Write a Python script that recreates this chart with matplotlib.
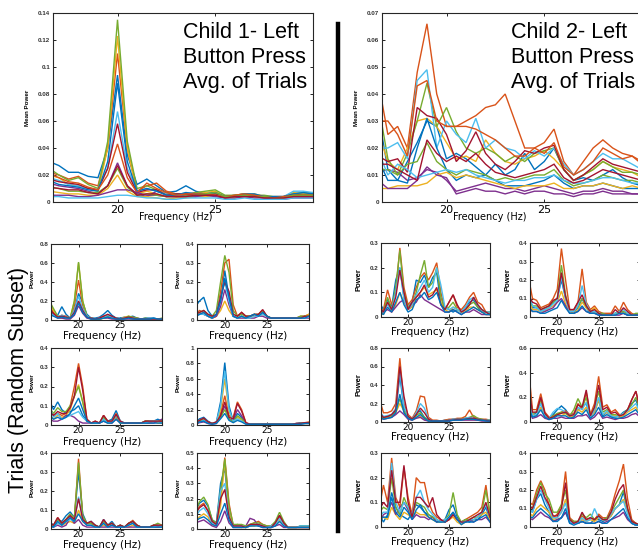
import matplotlib
matplotlib.use('Agg')
import matplotlib.pyplot as plt
from matplotlib.lines import Line2D
import numpy as np

# frequency grid (Hz) shared by every panel
freq = np.arange(16.5, 30.01, 0.5)

# MATLAB default line colours
matlab_colors = ['#0072BD', '#D95319', '#EDB120', '#7E2F8E', '#77AC30', '#4DBEEE', '#A2142F']

# ---- Child 1, average of trials (mean power) ----
c1_avg = [
    [.03, .027, .022, .022, .019, .018, .04, .094, .035, .013, .017, .012, .007, .008, .012, .008, .006, .007, .004, .005, .006, .005, .004, .004, .004, .006, .005, .005],
    [.022, .02, .017, .019, .014, .012, .04, .11, .04, .008, .012, .014, .008, .006, .006, .007, .006, .006, .004, .005, .006, .005, .004, .003, .004, .006, .006, .006],
    [.02, .018, .013, .012, .01, .008, .04, .123, .04, .006, .008, .006, .004, .005, .004, .006, .007, .008, .004, .004, .006, .006, .004, .003, .004, .007, .006, .007],
    [.014, .012, .011, .01, .008, .006, .012, .029, .012, .006, .004, .008, .006, .004, .005, .004, .006, .005, .004, .004, .005, .004, .004, .003, .003, .004, .004, .004],
    [.025, .02, .016, .018, .013, .01, .045, .135, .045, .01, .012, .009, .006, .006, .005, .007, .008, .009, .005, .005, .006, .005, .005, .004, .004, .006, .007, .006],
    [.018, .016, .013, .012, .01, .009, .025, .067, .025, .008, .01, .008, .006, .005, .007, .006, .006, .006, .004, .004, .006, .005, .004, .003, .004, .008, .008, .007],
    [.017, .015, .014, .013, .01, .009, .025, .058, .022, .007, .009, .009, .005, .006, .006, .005, .005, .006, .004, .004, .005, .005, .003, .004, .004, .005, .005, .005],
    [.016, .013, .012, .011, .009, .008, .03, .088, .03, .008, .01, .008, .005, .005, .007, .006, .006, .007, .004, .004, .006, .006, .004, .004, .004, .006, .007, .006],
    [.021, .018, .015, .014, .011, .009, .02, .043, .018, .007, .014, .01, .007, .005, .006, .006, .006, .005, .004, .005, .006, .005, .004, .003, .004, .005, .005, .005],
    [.008, .007, .006, .006, .005, .005, .01, .02, .008, .004, .004, .003, .002, .003, .003, .004, .004, .005, .003, .003, .004, .004, .003, .003, .003, .004, .004, .004],
    [.005, .005, .005, .004, .004, .005, .007, .009, .009, .007, .005, .005, .004, .004, .004, .004, .005, .004, .003, .003, .004, .003, .003, .002, .002, .003, .003, .003],
    [.011, .01, .008, .008, .007, .007, .012, .025, .011, .005, .006, .005, .004, .004, .004, .005, .006, .007, .004, .004, .005, .004, .004, .003, .003, .005, .005, .005],
    [.004, .004, .003, .003, .003, .003, .004, .005, .005, .004, .003, .003, .002, .002, .003, .003, .003, .003, .002, .002, .003, .002, .002, .002, .002, .003, .003, .003],
    [.011, .01, .009, .009, .007, .006, .012, .027, .012, .005, .006, .006, .004, .004, .004, .005, .005, .005, .003, .004, .004, .004, .003, .003, .003, .004, .004, .004],
]

# ---- Child 2, average of trials (mean power) ----
c2_avg = [
    [.033, .012, .008, .015, .022, .03, .028, .016, .018, .016, .013, .01, .014, .01, .012, .018, .012, .015, .02, .012, .008, .009, .008, .01, .012, .009, .007, .006],
    [.045, .025, .028, .02, .048, .066, .04, .028, .028, .03, .032, .035, .036, .04, .03, .02, .02, .022, .027, .015, .01, .015, .02, .023, .02, .018, .017, .014],
    [.026, .015, .012, .02, .03, .031, .028, .022, .016, .017, .015, .023, .018, .015, .014, .016, .017, .019, .016, .012, .008, .01, .012, .015, .013, .012, .011, .009],
    [.011, .012, .011, .008, .009, .012, .011, .008, .004, .005, .006, .007, .006, .005, .005, .004, .005, .006, .005, .004, .003, .004, .004, .005, .004, .004, .003, .003],
    [.037, .016, .01, .018, .03, .044, .028, .035, .026, .02, .018, .02, .018, .015, .017, .015, .018, .019, .02, .012, .008, .01, .012, .015, .013, .011, .011, .01],
    [.02, .02, .022, .016, .045, .049, .02, .03, .025, .022, .031, .02, .023, .02, .019, .016, .019, .017, .02, .014, .01, .012, .015, .018, .016, .016, .014, .012],
    [.017, .015, .016, .011, .035, .032, .031, .025, .015, .019, .026, .018, .014, .012, .015, .019, .018, .02, .021, .012, .008, .01, .013, .016, .014, .013, .012, .011],
    [.016, .008, .008, .007, .02, .031, .02, .012, .008, .01, .009, .01, .008, .006, .006, .006, .007, .008, .01, .007, .005, .006, .006, .007, .006, .005, .005, .005],
    [.03, .03, .025, .017, .043, .045, .03, .028, .028, .028, .027, .025, .023, .02, .017, .017, .02, .018, .022, .013, .01, .012, .015, .02, .018, .016, .017, .015],
    [.005, .005, .006, .006, .006, .007, .01, .011, .009, .01, .009, .008, .007, .006, .005, .006, .006, .006, .007, .005, .005, .006, .006, .007, .006, .005, .006, .005],
    [.008, .005, .005, .005, .008, .013, .01, .009, .003, .004, .005, .004, .004, .003, .004, .003, .004, .004, .003, .003, .002, .003, .003, .004, .003, .003, .003, .003],
    [.012, .012, .01, .014, .015, .022, .015, .012, .01, .012, .011, .01, .008, .009, .008, .009, .01, .01, .012, .008, .006, .007, .008, .01, .009, .008, .008, .007],
    [.019, .01, .014, .012, .009, .01, .011, .012, .011, .012, .01, .009, .008, .007, .008, .008, .009, .009, .01, .008, .007, .007, .008, .009, .009, .008, .007, .007],
    [.014, .014, .012, .01, .008, .023, .018, .015, .017, .015, .018, .014, .011, .01, .009, .01, .011, .012, .014, .009, .007, .008, .01, .012, .011, .01, .009, .008],
]

# ---- Child 1, single trials (power) ----
c1_t1 = [
    [.12, .06, .05, .14, .06, .02, .1, .28, .18, .06, .02, .02, .03, .06, .1, .05, .02, .02, .03, .03, .04, .02, .01, .02, .02, .02, .01, .01],
    [.15, .08, .03, .05, .04, .02, .15, .42, .15, .03, .02, .01, .02, .04, .05, .03, .01, .01, .02, .03, .03, .02, .01, .01, .01, .01, .01, .01],
    [.2, .1, .03, .02, .03, .02, .2, .6, .2, .03, .01, .01, .01, .02, .03, .02, .01, .01, .03, .04, .02, .01, .01, .01, .01, .01, .01, .01],
    [.1, .05, .02, .02, .01, .01, .05, .15, .07, .02, .01, .01, .01, .02, .02, .01, .01, .01, .01, .01, .01, .01, .01, .01, .01, .01, .01, .01],
    [.2, .12, .04, .04, .03, .02, .2, .61, .2, .04, .02, .01, .01, .02, .04, .03, .02, .01, .02, .04, .03, .02, .01, .02, .01, .01, .01, .02],
    [.08, .05, .03, .05, .03, .02, .1, .25, .12, .04, .02, .01, .02, .03, .05, .03, .02, .01, .02, .02, .02, .01, .01, .01, .01, .01, .01, .01],
    [.12, .07, .03, .04, .03, .02, .08, .2, .1, .03, .02, .01, .02, .04, .06, .04, .02, .01, .02, .03, .02, .01, .01, .01, .01, .01, .01, .01],
    [.06, .04, .02, .03, .02, .02, .06, .18, .08, .03, .01, .01, .01, .02, .03, .02, .01, .01, .01, .02, .01, .01, .01, .01, .01, .02, .01, .01],
]
c1_t2 = [
    [.07, .1, .12, .05, .02, .02, .1, .26, .12, .02, .01, .02, .01, .02, .03, .02, .04, .02, .01, .01, .01, .01, .01, .01, .01, .01, .02, .02],
    [.03, .05, .04, .02, .01, .02, .15, .3, .32, .08, .02, .04, .02, .02, .02, .03, .05, .02, .01, .01, .01, .01, .01, .01, .01, .02, .02, .03],
    [.02, .03, .03, .02, .01, .02, .05, .1, .05, .02, .01, .02, .01, .01, .02, .02, .03, .02, .01, .01, .01, .01, .01, .01, .01, .01, .02, .03],
    [.02, .03, .03, .02, .01, .02, .07, .16, .08, .02, .01, .01, .01, .01, .01, .02, .02, .01, .01, .01, .01, .01, .01, .01, .01, .01, .01, .01],
    [.03, .04, .05, .03, .02, .05, .2, .34, .25, .05, .02, .03, .02, .02, .03, .03, .05, .02, .01, .01, .01, .01, .01, .01, .01, .02, .02, .02],
    [.02, .03, .03, .02, .01, .03, .12, .2, .1, .02, .01, .02, .01, .01, .02, .02, .03, .02, .01, .01, .01, .01, .01, .01, .01, .01, .01, .02],
    [.03, .04, .05, .03, .02, .03, .12, .2, .15, .03, .02, .04, .02, .02, .03, .03, .055, .02, .01, .01, .01, .01, .01, .01, .01, .01, .02, .02],
    [.02, .03, .04, .02, .01, .03, .1, .22, .12, .02, .01, .02, .01, .02, .03, .02, .04, .02, .01, .01, .01, .01, .01, .01, .01, .01, .01, .02],
]
c1_t3 = [
    [.13, .08, .12, .08, .06, .07, .08, .1, .05, .02, .01, .01, .01, .04, .02, .03, .075, .02, .01, .01, .01, .01, .01, .02, .02, .02, .03, .02],
    [.08, .05, .06, .05, .06, .1, .2, .32, .2, .03, .01, .02, .01, .05, .02, .02, .06, .02, .01, .01, .01, .01, .01, .02, .02, .02, .02, .02],
    [.06, .03, .05, .04, .05, .08, .15, .21, .12, .02, .01, .01, .01, .03, .01, .02, .04, .01, .01, .01, .01, .01, .01, .01, .01, .02, .01, .01],
    [.03, .02, .02, .03, .05, .05, .04, .02, .01, .01, .01, .01, .01, .02, .01, .01, .03, .01, .01, .01, .01, .01, .01, .01, .01, .01, .02, .03],
    [.09, .06, .09, .07, .07, .1, .15, .2, .12, .02, .01, .01, .01, .04, .01, .02, .05, .01, .01, .01, .01, .01, .01, .02, .02, .02, .02, .02],
    [.1, .04, .06, .03, .04, .05, .06, .07, .04, .02, .01, .01, .01, .03, .01, .02, .05, .02, .01, .01, .01, .01, .01, .01, .02, .02, .02, .01],
    [.07, .05, .07, .06, .06, .09, .15, .3, .18, .03, .01, .02, .01, .05, .02, .02, .055, .02, .01, .01, .01, .01, .01, .02, .02, .02, .02, .02],
    [.05, .03, .04, .03, .04, .06, .1, .14, .08, .02, .01, .01, .01, .02, .01, .01, .03, .01, .01, .01, .01, .01, .01, .01, .01, .01, .01, .01],
]
c1_t4 = [
    [.03, .08, .1, .05, .02, .04, .3, .81, .25, .05, .15, .1, .02, .01, .01, .01, .01, .01, .01, .01, .01, .01, .01, .01, .02, .03, .03, .03],
    [.02, .06, .08, .04, .02, .03, .15, .38, .12, .1, .3, .2, .03, .01, .01, .01, .01, .01, .01, .01, .01, .01, .01, .01, .02, .02, .03, .04],
    [.02, .05, .06, .03, .02, .03, .2, .6, .18, .04, .1, .06, .02, .01, .01, .01, .01, .01, .01, .01, .01, .01, .01, .01, .01, .02, .02, .02],
    [.01, .03, .04, .02, .01, .02, .1, .25, .08, .06, .2, .12, .02, .01, .01, .01, .01, .01, .01, .01, .01, .01, .01, .01, .01, .01, .02, .02],
    [.02, .05, .07, .03, .02, .03, .1, .2, .08, .04, .12, .08, .02, .01, .01, .01, .01, .01, .01, .01, .01, .01, .01, .01, .01, .02, .02, .03],
    [.02, .04, .06, .03, .02, .03, .25, .7, .2, .05, .08, .05, .02, .01, .01, .01, .01, .01, .01, .01, .01, .01, .01, .01, .01, .02, .02, .02],
    [.02, .06, .09, .04, .02, .04, .12, .3, .1, .08, .28, .18, .03, .01, .01, .01, .01, .01, .01, .01, .01, .01, .01, .01, .02, .02, .03, .03],
    [.01, .04, .05, .02, .01, .02, .08, .15, .06, .03, .06, .04, .01, .01, .01, .01, .01, .01, .01, .01, .01, .01, .01, .01, .01, .01, .02, .02],
]
c1_t5 = [
    [.04, .02, .05, .04, .07, .09, .06, .3, .08, .03, .04, .02, .01, .05, .02, .04, .01, .02, .01, .03, .04, .02, .01, .01, .01, .02, .02, .01],
    [.03, .02, .06, .03, .05, .07, .05, .37, .06, .03, .03, .01, .01, .04, .02, .03, .01, .02, .01, .03, .045, .02, .01, .01, .01, .02, .02, .01],
    [.02, .01, .03, .02, .03, .04, .03, .1, .04, .02, .02, .01, .01, .02, .01, .02, .01, .01, .01, .01, .02, .01, .01, .01, .01, .01, .01, .01],
    [.01, .01, .02, .01, .02, .06, .03, .05, .02, .01, .01, .01, .01, .01, .01, .01, .01, .01, .01, .01, .01, .01, .01, .01, .01, .01, .01, .01],
    [.03, .02, .05, .03, .05, .08, .06, .35, .07, .03, .03, .02, .01, .04, .02, .03, .01, .02, .01, .03, .04, .02, .01, .01, .01, .02, .03, .02],
    [.02, .01, .03, .02, .04, .05, .04, .17, .05, .02, .02, .01, .01, .03, .01, .02, .01, .01, .01, .02, .03, .01, .01, .01, .01, .01, .02, .01],
    [.03, .02, .06, .03, .05, .07, .05, .16, .05, .03, .04, .02, .01, .05, .02, .03, .01, .02, .01, .03, .04, .02, .01, .01, .01, .02, .02, .02],
    [.02, .01, .04, .02, .04, .06, .04, .08, .04, .02, .02, .01, .01, .03, .01, .02, .01, .01, .01, .02, .03, .01, .01, .01, .01, .01, .01, .01],
]
c1_t6 = [
    [.12, .17, .19, .15, .06, .04, .3, .4, .1, .02, .02, .02, .01, .02, .03, .02, .02, .01, .02, .04, .09, .04, .01, .01, .01, .02, .02, .02],
    [.1, .15, .17, .12, .05, .03, .2, .47, .17, .02, .03, .02, .01, .03, .04, .05, .03, .02, .02, .04, .08, .03, .01, .01, .01, .01, .01, .01],
    [.06, .08, .1, .08, .03, .02, .15, .45, .1, .02, .02, .01, .01, .02, .02, .03, .02, .01, .01, .03, .06, .02, .01, .01, .01, .01, .01, .01],
    [.04, .05, .06, .04, .02, .01, .05, .12, .04, .01, .01, .01, .02, .07, .06, .02, .01, .01, .01, .02, .03, .01, .01, .01, .01, .01, .01, .01],
    [.12, .18, .21, .16, .06, .04, .25, .46, .15, .03, .03, .03, .02, .03, .04, .04, .03, .02, .02, .05, .11, .05, .01, .01, .01, .02, .02, .02],
    [.08, .12, .14, .1, .04, .03, .25, .3, .08, .02, .02, .02, .01, .02, .03, .03, .02, .01, .02, .03, .07, .03, .01, .01, .01, .02, .02, .02],
    [.1, .14, .16, .12, .05, .03, .2, .26, .08, .02, .02, .02, .01, .03, .03, .03, .02, .01, .01, .04, .09, .04, .01, .01, .01, .01, .01, .01],
    [.05, .07, .08, .06, .03, .02, .1, .17, .06, .01, .01, .01, .01, .02, .02, .02, .01, .01, .01, .02, .05, .02, .01, .01, .01, .01, .01, .01],
]

# ---- Child 2, single trials (power) ----
c2_t1 = [
    [.06, .03, .07, .04, .15, .2, .08, .04, .06, .15, .14, .17, .12, .16, .18, .05, .04, .03, .02, .03, .02, .04, .06, .07, .04, .02, .02, .01],
    [.02, .03, .11, .05, .1, .28, .12, .05, .07, .12, .16, .18, .15, .18, .22, .1, .03, .06, .09, .04, .03, .05, .08, .1, .06, .05, .02, .02],
    [.02, .01, .06, .02, .05, .1, .06, .03, .04, .08, .1, .12, .09, .1, .11, .06, .03, .02, .04, .03, .02, .02, .04, .04, .03, .02, .01, .01],
    [.01, .02, .03, .02, .04, .06, .07, .03, .05, .06, .09, .07, .06, .05, .04, .03, .02, .02, .03, .02, .01, .02, .02, .03, .02, .01, .01, .01],
    [.03, .02, .08, .03, .12, .27, .1, .04, .05, .1, .17, .23, .12, .14, .2, .08, .03, .04, .06, .03, .02, .03, .05, .06, .04, .03, .02, .02],
    [.03, .02, .05, .03, .1, .2, .07, .03, .05, .09, .12, .15, .1, .12, .2, .13, .04, .03, .04, .03, .02, .04, .07, .08, .05, .03, .02, .02],
    [.04, .02, .06, .03, .08, .19, .1, .03, .06, .08, .1, .13, .08, .09, .12, .05, .03, .06, .09, .05, .02, .03, .05, .08, .05, .03, .02, .01],
    [.02, .01, .04, .02, .06, .1, .05, .02, .03, .07, .08, .1, .07, .08, .1, .05, .02, .02, .03, .02, .01, .02, .03, .04, .03, .02, .01, .01],
]
c2_t2 = [
    [.12, .05, .05, .03, .04, .05, .08, .1, .2, .1, .03, .03, .05, .1, .05, .02, .02, .02, .01, .01, .01, .02, .03, .02, .01, .01, .01, .01],
    [.22, .1, .09, .05, .06, .07, .1, .15, .37, .2, .04, .04, .08, .26, .08, .04, .06, .03, .02, .02, .02, .06, .03, .08, .04, .02, .01, .01],
    [.1, .04, .04, .03, .03, .05, .06, .08, .14, .07, .03, .02, .04, .08, .05, .03, .05, .02, .01, .01, .01, .02, .02, .03, .02, .01, .01, .01],
    [.05, .03, .03, .02, .03, .04, .05, .08, .1, .06, .02, .02, .03, .05, .03, .02, .02, .01, .01, .01, .01, .01, .01, .02, .01, .01, .01, .01],
    [.1, .06, .06, .04, .05, .06, .08, .1, .28, .12, .03, .03, .06, .1, .06, .03, .03, .02, .02, .01, .01, .02, .03, .03, .02, .01, .02, .02],
    [.15, .06, .05, .03, .04, .05, .07, .09, .22, .1, .03, .03, .06, .17, .07, .03, .03, .02, .01, .01, .01, .02, .03, .04, .02, .01, .01, .01],
    [.12, .08, .07, .04, .05, .06, .09, .1, .24, .11, .04, .04, .08, .12, .06, .03, .04, .02, .01, .01, .01, .04, .02, .05, .03, .01, .01, .01],
    [.06, .03, .03, .02, .02, .03, .04, .05, .09, .05, .02, .02, .03, .06, .03, .02, .02, .01, .01, .01, .01, .01, .02, .02, .01, .01, .01, .01],
]
c2_t3 = [
    [.1, .05, .06, .08, .12, .5, .15, .05, .03, .1, .12, .05, .02, .01, .01, .01, .02, .02, .03, .03, .03, .04, .04, .03, .03, .02, .02, .01],
    [.25, .1, .1, .12, .2, .69, .2, .08, .04, .12, .28, .27, .05, .02, .02, .01, .02, .03, .03, .04, .04, .06, .13, .05, .04, .03, .03, .02],
    [.08, .04, .05, .06, .1, .2, .12, .04, .02, .05, .06, .03, .01, .01, .01, .01, .01, .02, .02, .03, .04, .03, .03, .03, .02, .02, .02, .01],
    [.05, .03, .04, .05, .08, .12, .08, .03, .02, .04, .05, .02, .01, .01, .01, .01, .01, .01, .02, .02, .02, .02, .02, .02, .02, .01, .01, .01],
    [.07, .04, .06, .07, .12, .25, .12, .05, .03, .07, .1, .05, .02, .01, .01, .01, .01, .02, .02, .03, .03, .04, .05, .07, .04, .03, .02, .02],
    [.12, .06, .07, .08, .15, .55, .17, .06, .03, .1, .2, .15, .03, .01, .01, .01, .01, .02, .03, .03, .03, .04, .05, .04, .03, .02, .02, .02],
    [.1, .05, .06, .08, .13, .6, .28, .06, .03, .08, .15, .1, .03, .01, .01, .01, .01, .02, .02, .03, .03, .03, .04, .04, .03, .02, .02, .01],
    [.06, .03, .04, .05, .1, .3, .1, .04, .02, .05, .08, .04, .01, .01, .01, .01, .01, .01, .02, .02, .02, .03, .03, .03, .02, .02, .01, .01],
]
c2_t4 = [
    [.2, .05, .08, .15, .05, .03, .06, .1, .13, .1, .05, .05, .1, .12, .15, .04, .08, .18, .05, .08, .05, .04, .05, .08, .1, .15, .18, .08],
    [.45, .1, .1, .23, .08, .04, .05, .06, .08, .09, .06, .07, .15, .1, .24, .06, .15, .37, .12, .14, .08, .1, .06, .06, .1, .18, .25, .12],
    [.25, .06, .05, .12, .04, .03, .04, .06, .05, .07, .04, .05, .1, .08, .12, .04, .08, .18, .06, .08, .05, .05, .04, .05, .08, .1, .12, .07],
    [.1, .03, .04, .06, .03, .02, .03, .03, .04, .03, .03, .03, .05, .05, .06, .02, .04, .08, .03, .04, .03, .02, .03, .03, .04, .06, .07, .04],
    [.3, .07, .08, .18, .06, .03, .05, .07, .08, .07, .05, .1, .19, .12, .2, .05, .12, .25, .08, .1, .06, .06, .05, .07, .1, .14, .2, .1],
    [.2, .05, .06, .15, .05, .03, .08, .11, .1, .08, .05, .06, .12, .1, .16, .04, .1, .2, .06, .09, .05, .04, .05, .07, .09, .12, .15, .08],
    [.3, .08, .08, .2, .07, .03, .04, .06, .07, .08, .05, .06, .14, .12, .26, .05, .12, .3, .1, .12, .07, .08, .05, .06, .1, .18, .25, .1],
    [.12, .04, .05, .1, .04, .02, .03, .05, .05, .05, .03, .04, .08, .06, .1, .03, .06, .12, .04, .06, .04, .03, .03, .04, .06, .08, .1, .05],
]
c2_t5 = [
    [.05, .02, .05, .14, .08, .05, .04, .03, .06, .09, .08, .06, .05, .04, .03, .02, .03, .07, .09, .04, .02, .03, .02, .03, .03, .05, .08, .03],
    [.08, .17, .1, .28, .12, .08, .24, .12, .05, .2, .18, .18, .1, .06, .04, .03, .02, .03, .05, .03, .02, .03, .04, .05, .06, .08, .17, .05],
    [.03, .04, .03, .08, .05, .03, .06, .05, .04, .06, .05, .05, .04, .03, .02, .02, .02, .03, .04, .02, .01, .02, .03, .03, .04, .05, .06, .03],
    [.02, .05, .06, .1, .05, .08, .1, .07, .03, .05, .04, .04, .03, .04, .02, .03, .02, .03, .06, .03, .02, .02, .03, .02, .03, .03, .04, .02],
    [.06, .08, .07, .2, .08, .05, .12, .08, .04, .1, .09, .08, .05, .04, .03, .02, .03, .05, .14, .05, .02, .03, .03, .04, .04, .06, .15, .05],
    [.04, .06, .06, .26, .1, .06, .1, .08, .05, .12, .15, .1, .07, .05, .03, .02, .03, .04, .06, .03, .02, .02, .03, .03, .04, .06, .09, .04],
    [.07, .1, .08, .23, .1, .1, .25, .1, .04, .12, .12, .1, .08, .12, .05, .03, .02, .03, .05, .03, .02, .02, .03, .04, .05, .06, .1, .04],
    [.03, .04, .04, .12, .06, .04, .08, .06, .03, .07, .09, .06, .04, .03, .02, .02, .02, .04, .06, .03, .01, .02, .02, .02, .03, .04, .05, .02],
]
c2_t6 = [
    [.1, .08, .15, .18, .12, .08, .03, .04, .05, .08, .02, .02, .02, .03, .02, .02, .04, .04, .03, .04, .06, .1, .12, .19, .08, .02, .01, .01],
    [.14, .12, .2, .25, .2, .12, .05, .07, .12, .3, .05, .03, .03, .06, .04, .05, .04, .07, .05, .05, .1, .18, .25, .34, .15, .04, .02, .01],
    [.08, .06, .1, .12, .1, .08, .04, .05, .08, .15, .04, .02, .02, .04, .03, .04, .03, .05, .04, .04, .06, .1, .12, .15, .08, .03, .01, .01],
    [.05, .04, .06, .08, .06, .05, .03, .04, .05, .08, .03, .02, .02, .03, .02, .02, .02, .03, .02, .03, .04, .05, .06, .08, .04, .02, .01, .01],
    [.12, .1, .18, .24, .18, .15, .08, .08, .12, .2, .04, .03, .03, .07, .05, .07, .04, .06, .04, .05, .08, .12, .16, .2, .1, .03, .02, .01],
    [.1, .08, .15, .2, .15, .1, .05, .05, .08, .13, .03, .02, .02, .05, .03, .04, .1, .05, .04, .04, .07, .1, .12, .14, .07, .02, .01, .01],
    [.12, .1, .16, .22, .16, .12, .06, .06, .1, .24, .04, .02, .03, .08, .04, .05, .04, .06, .04, .04, .08, .15, .2, .23, .1, .03, .02, .01],
    [.06, .05, .08, .1, .08, .06, .03, .03, .05, .1, .02, .01, .02, .03, .02, .02, .02, .03, .02, .02, .04, .06, .08, .1, .05, .02, .01, .01],
]

# y-axis limits / tick steps per panel
c1_trial_ylim = [(0.8, 0.2), (0.4, 0.1), (0.4, 0.1), (1.0, 0.2), (0.4, 0.1), (0.5, 0.1)]
c2_trial_ylim = [(0.3, 0.1), (0.4, 0.1), (0.8, 0.2), (0.6, 0.2), (0.3, 0.1), (0.4, 0.1)]

W, H = 638, 550
fig = plt.figure(figsize=(W / 100, H / 100), dpi=100)


def add_ax(l, t, r, b):
    # pixel box -> figure fraction
    return fig.add_axes([l / W, 1 - b / H, (r - l) / W, (b - t) / H])


def draw(ax, curves, ymax, ystep, lw=1.0):
    for i, c in enumerate(curves):
        ax.plot(freq, c, color=matlab_colors[i % 7], lw=lw, solid_joinstyle='miter')
    ax.set_xlim(16.7, 30)
    ax.set_ylim(0, ymax)
    ax.set_xticks([20, 25])
    yt = np.arange(0, ymax + 1e-9, ystep)
    ax.set_yticks(yt)
    ax.set_yticklabels([f'{round(v, 3):g}' for v in yt], fontsize=4.5, fontweight='bold',
                       family='Liberation Sans', color='#333333')
    ax.tick_params(direction='in', top=True, right=True, length=2.5, width=0.6, pad=2)
    for s in ax.spines.values():
        s.set_linewidth(0.8)
        s.set_color('#262626')


# ---- top panels ----
ax1 = add_ax(53, 13, 313, 202)
draw(ax1, c1_avg, 0.14, 0.02)
ax1.tick_params(axis='x', labelsize=8)
ax1.set_ylabel('Mean Power', fontsize=4.5, fontweight='bold', family='Liberation Sans')
ax1.yaxis.set_label_coords(-0.088, 0.5)
ax1.set_xlabel('Frequency (Hz)', fontsize=7)
ax1.xaxis.set_label_coords(0.473, -0.053)
ax1.text(0.5, 0.955, 'Child 1- Left\nButton Press\nAvg. of Trials', transform=ax1.transAxes,
         ha='left', va='top', fontsize=15.5, family='Liberation Sans', linespacing=1.25,
         bbox=dict(facecolor='white', edgecolor='none', pad=1), zorder=5)

ax2 = add_ax(382, 13, 642, 202)
draw(ax2, c2_avg, 0.07, 0.01)
ax2.tick_params(axis='x', labelsize=8)
ax2.set_ylabel('Mean Power', fontsize=4.5, fontweight='bold', family='Liberation Sans')
ax2.yaxis.set_label_coords(-0.088, 0.5)
ax2.set_xlabel('Frequency (Hz)', fontsize=7)
ax2.xaxis.set_label_coords(0.415, -0.053)
ax2.text(0.496, 0.955, 'Child 2- Left\nButton Press\nAvg. of Trials', transform=ax2.transAxes,
         ha='left', va='top', fontsize=15.5, family='Liberation Sans', linespacing=1.25,
         bbox=dict(facecolor='white', edgecolor='none', pad=1), zorder=5)

# ---- trial panels ----
c1_trials = [c1_t1, c1_t2, c1_t3, c1_t4, c1_t5, c1_t6]
c2_trials = [c2_t1, c2_t2, c2_t3, c2_t4, c2_t5, c2_t6]

left_cols = [(51, 162), (197, 309)]
left_rows = [(244, 320), (348, 425), (453, 529)]
right_cols = [(381, 490), (530, 640)]
right_rows = [(243, 317), (348, 422), (453, 527)]

for k in range(6):
    r, c = divmod(k, 2)
    ax = add_ax(left_cols[c][0], left_rows[r][0], left_cols[c][1], left_rows[r][1])
    draw(ax, c1_trials[k], *c1_trial_ylim[k])
    ax.tick_params(axis='x', labelsize=6.5, pad=1)
    ax.set_ylabel('Power', fontsize=4.5, fontweight='bold', family='Liberation Sans')
    ax.yaxis.set_label_coords(-0.145, 0.55)
    ax.set_xlabel('Frequency (Hz)', fontsize=7.5, labelpad=0)
    ax.xaxis.set_label_coords(0.46, -0.15)

    ax = add_ax(right_cols[c][0], right_rows[r][0], right_cols[c][1], right_rows[r][1])
    draw(ax, c2_trials[k], *c2_trial_ylim[k])
    ax.tick_params(axis='x', labelsize=6.5, pad=1)
    ax.set_ylabel('Power', fontsize=5.5, fontweight='bold', family='Liberation Sans')
    ax.yaxis.set_label_coords(-0.17, 0.5)
    ax.set_xlabel('Frequency (Hz)', fontsize=7.5, labelpad=0)
    ax.xaxis.set_label_coords(0.45, -0.13)

# divider line between the two children
fig.add_artist(Line2D([337.5 / W, 337.5 / W], [1 - 24 / H, 1 - 531 / H], color='black', lw=3.2))

fig.text(19 / W, 1 - 380 / H, 'Trials (Random Subset)', rotation=90, ha='center', va='center',
         fontsize=15.5, family='Liberation Sans')

fig.savefig('out.png', dpi=100)
